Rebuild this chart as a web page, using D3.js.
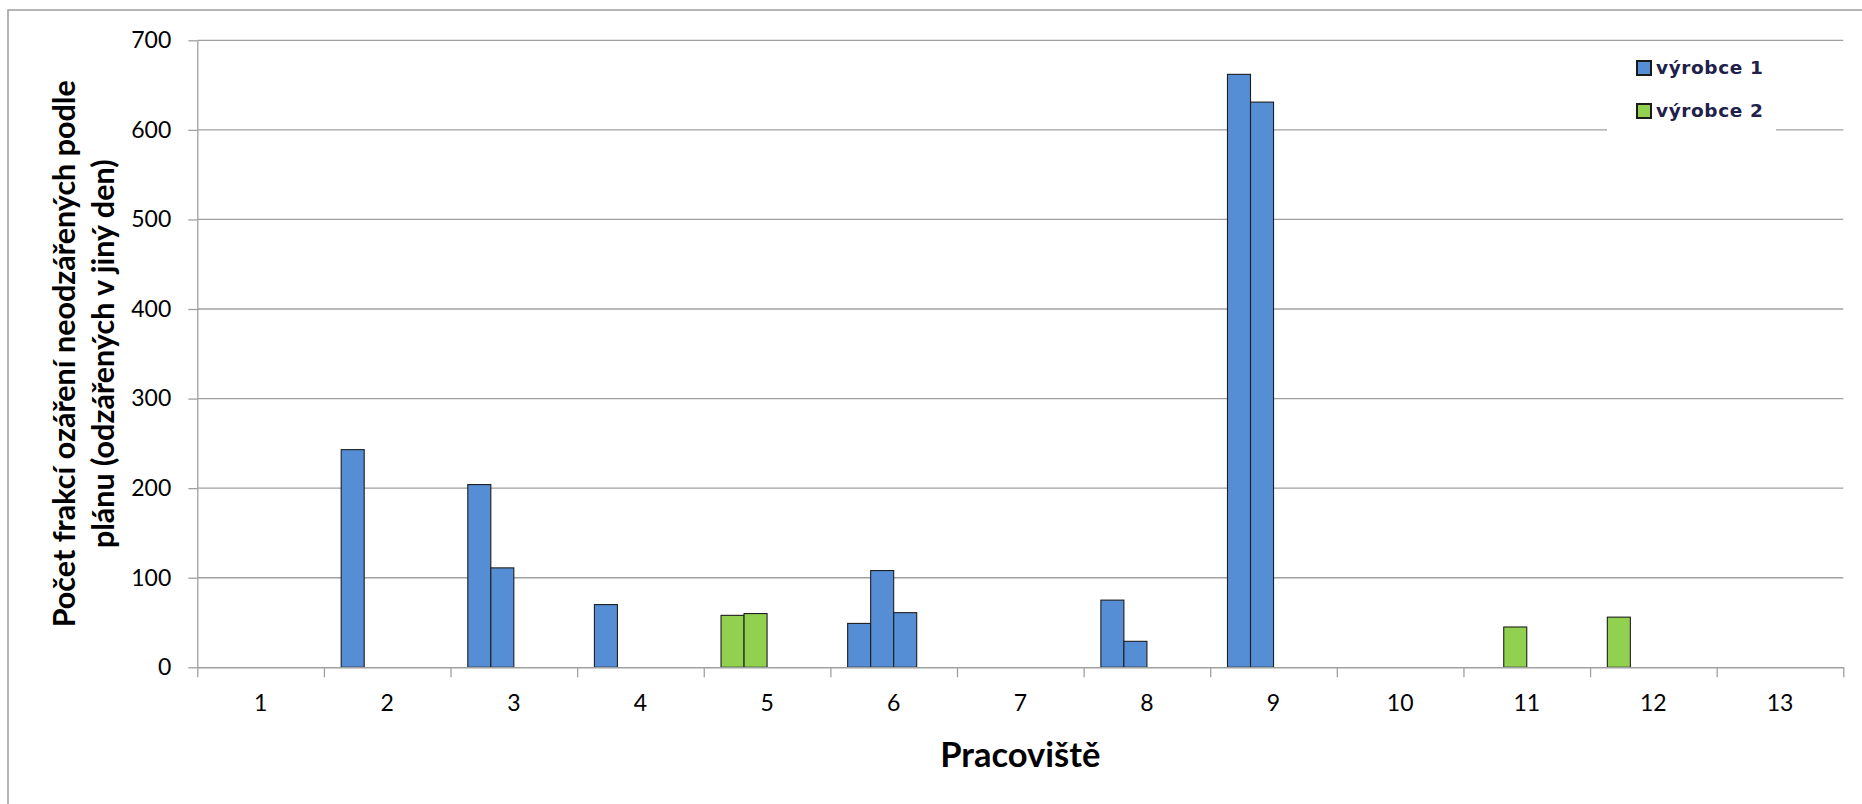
<!DOCTYPE html>
<html>
<head>
<meta charset="utf-8">
<script src="https://cdn.jsdelivr.net/npm/d3@7"></script>
<style>
  html, body { margin: 0; padding: 0; background: #fff; }
  svg { display: block; }
</style>
</head>
<body>
<svg id="chart" width="1862" height="804"></svg>
<script>
// pracoviště 1..13
const categories = ["1", "2", "3", "4", "5", "6", "7", "8", "9", "10", "11", "12", "13"];
// hodnoty po jednotlivých pozicích (4 sloupce v každé skupině, jako v Excelu)
const slot1 = [0, 243, 204, 70, 58, 49, 0, 75, 662, 0, 0, 56, 0];
const slot2 = [0, 0, 111, 0, 60, 108, 0, 29, 631, 0, 45, 0, 0];
const slot3 = [0, 0, 0, 0, 0, 61, 0, 0, 0, 0, 0, 0, 0];
const slot4 = [0, 0, 0, 0, 0, 0, 0, 0, 0, 0, 0, 0, 0];
// výrobce pro každé pracoviště
const producer = [1, 1, 1, 1, 2, 1, 1, 1, 1, 1, 2, 2, 1];
const legendLabels = ["výrobce 1", "výrobce 2"];
const yTicks = [0, 100, 200, 300, 400, 500, 600, 700];

const colors = { 1: "#558ed5", 2: "#92d050" };

let svg = d3.select("#chart");

let area = {
    left: 197.3,
    right: 1843.3,
    top: 40.3,
    bottom: 667.3
};

// okraj grafu (je vidět jen levá a horní hrana)
svg.append("rect")
    .attr("x", 8).attr("y", 10)
    .attr("width", 1900).attr("height", 900)
    .attr("fill", "none")
    .attr("stroke", "#a3a3a3")
    .attr("stroke-width", 1.6);

// škály
let scY = d3.scaleLinear().domain([0, 700]).range([area.bottom, area.top]);
let scX = d3.scaleBand().domain(categories).range([area.left, area.right]).padding(0);
let scEdge = d3.scaleLinear().domain([0, categories.length]).range([area.left, area.right]);
let slots = [0, 1, 2, 3];
let scSlot = d3.scaleBand().domain(slots).range([0, scX.bandwidth()])
    .paddingInner(0).paddingOuter(0.75);

// mřížka
svg.append("g")
    .selectAll("line")
    .data(yTicks.slice(1))
    .enter()
    .append("line")
    .attr("x1", area.left).attr("x2", area.right)
    .attr("y1", d => scY(d)).attr("y2", d => scY(d))
    .attr("stroke", "#a0a0a0")
    .attr("stroke-width", 1.3);

// osa Y
let gy = svg.append("g")
    .attr("transform", `translate(${area.left},0)`)
    .call(d3.axisLeft(scY).tickValues(yTicks).tickSize(9).tickPadding(17).tickSizeOuter(0));
gy.select(".domain").attr("stroke", "#a0a0a0").attr("stroke-width", 1.3);
gy.selectAll(".tick line").attr("stroke", "#a0a0a0").attr("stroke-width", 1.3);
gy.selectAll("text")
    .style("font-family", "Lato, 'Open Sans', sans-serif")
    .style("font-size", "23px")
    .attr("fill", "#000");

// sloupce
let barData = [];
const slotValues = [slot1, slot2, slot3, slot4];
categories.forEach((c, i) => {
    slotValues.forEach((arr, s) => {
        if (arr[i] > 0) {
            barData.push({ cat: c, slot: s, value: arr[i], prod: producer[i] });
        }
    });
});

svg.append("g")
    .selectAll("rect")
    .data(barData)
    .enter()
    .append("rect")
    .attr("x", d => scX(d.cat) + scSlot(d.slot))
    .attr("y", d => scY(d.value))
    .attr("width", scSlot.bandwidth())
    .attr("height", d => scY(0) - scY(d.value))
    .attr("fill", d => colors[d.prod])
    .attr("stroke", "#1e1e1e")
    .attr("stroke-width", 1.1);

// osa X - čárky na hranicích kategorií
let gxEdge = svg.append("g")
    .attr("transform", `translate(0,${area.bottom})`)
    .call(d3.axisBottom(scEdge).tickValues(d3.range(categories.length + 1)).tickFormat("").tickSize(10).tickSizeOuter(0));
gxEdge.select(".domain").attr("stroke", "#a0a0a0").attr("stroke-width", 1.6);
gxEdge.selectAll(".tick line").attr("stroke", "#a0a0a0").attr("stroke-width", 1.3);

// popisky kategorií
let gx = svg.append("g")
    .attr("transform", `translate(0,${area.bottom})`)
    .call(d3.axisBottom(scX).tickSize(0).tickPadding(27));
gx.select(".domain").remove();
gx.selectAll("text")
    .style("font-family", "Lato, 'Open Sans', sans-serif")
    .style("font-size", "23px")
    .attr("fill", "#000");

// název osy X
svg.append("text")
    .attr("x", (area.left + area.right) / 2)
    .attr("y", 767)
    .attr("text-anchor", "middle")
    .style("font-family", "Lato, 'Open Sans', sans-serif")
    .style("font-weight", "bold")
    .style("font-size", "34.5px")
    .text("Pracoviště");

// název osy Y (dva řádky)
const yTitle = ["Počet frakcí ozáření neodzářených podle", "plánu (odzářených v jiný den)"];
const yTitleX = [75, 114];
const cy = (area.top + area.bottom) / 2;
yTitle.forEach((t, i) => {
    svg.append("text")
        .attr("transform", `translate(${yTitleX[i]},${cy}) rotate(-90)`)
        .attr("text-anchor", "middle")
        .style("font-family", "Lato, 'Open Sans', sans-serif")
        .style("font-weight", "bold")
        .style("font-size", "30.5px")
        .text(t);
});

// legenda
let lg = svg.append("g");
lg.append("rect")
    .attr("x", 1607).attr("y", 46)
    .attr("width", 169).attr("height", 90)
    .attr("fill", "#fff");
legendLabels.forEach((lab, i) => {
    let yy = 61 + i * 43;
    lg.append("rect")
        .attr("x", 1637).attr("y", yy)
        .attr("width", 14).attr("height", 14)
        .attr("fill", colors[i + 1])
        .attr("stroke", "#1a1a1a")
        .attr("stroke-width", 2);
    lg.append("text")
        .attr("x", 1656).attr("y", yy + 13)
        .style("font-family", "'DejaVu Sans', sans-serif")
        .style("font-weight", "bold")
        .style("font-size", "18.5px")
        .style("letter-spacing", "0.6px")
        .attr("fill", "#20204a")
        .text(lab);
});
</script>
</body>
</html>
